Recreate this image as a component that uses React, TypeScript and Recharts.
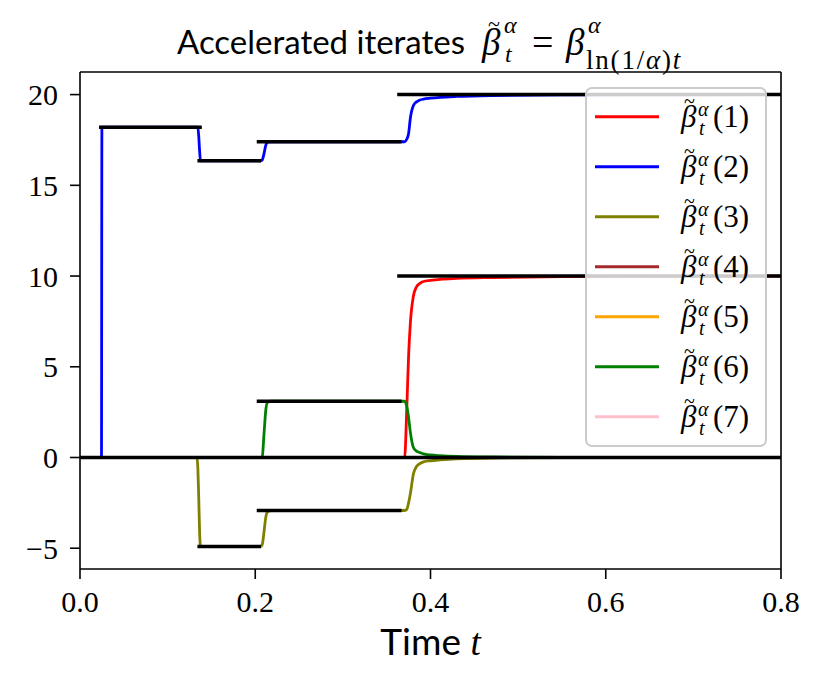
import React from 'react';
import { LineChart, Line, XAxis, YAxis, Legend } from 'recharts';

// ---- data ----
const TIMES = [0, 0.0245, 0.025, 0.1335, 0.1345, 0.1355, 0.1365, 0.1375, 0.2065, 0.208, 0.21, 0.212, 0.214, 0.218, 0.3705, 0.373, 0.375, 0.377, 0.3805, 0.384, 0.388, 0.392, 0.4, 0.411, 0.43, 0.47, 0.55, 0.8];

const BETA_1 = [0, 0, 0, 0, 0, 0, 0, 0, 0, 0, 0, 0, 0, 0, 0, 2.8, 5.6, 7.4, 8.9, 9.4, 9.6, 9.7, 9.76, 9.82, 9.87, 9.92, 9.97, 10];
const BETA_2 = [0, 0, 18.2, 18.2, 18.2, 17.7, 16.9, 16.35, 16.35, 16.4, 16.75, 17.2, 17.38, 17.4, 17.4, 17.55, 17.85, 18.7, 19.4, 19.6, 19.7, 19.75, 19.8, 19.85, 19.9, 19.95, 19.98, 20];
const BETA_3 = [0, 0, 0, 0, -0.6, -2.2, -4.1, -4.9, -4.9, -4.8, -4.1, -3.3, -3.0, -2.92, -2.92, -2.85, -2.5, -2.0, -0.9, -0.5, -0.33, -0.24, -0.18, -0.13, -0.07, -0.03, -0.01, 0];
const BETA_4 = [0, 0, 0, 0, 0, 0, 0, 0, 0, 0, 0, 0, 0, 0, 0, 0, 0, 0, 0, 0, 0, 0, 0, 0, 0, 0, 0, 0];
const BETA_5 = [0, 0, 0, 0, 0, 0, 0, 0, 0, 0, 0, 0, 0, 0, 0, 0, 0, 0, 0, 0, 0, 0, 0, 0, 0, 0, 0, 0];
const BETA_6 = [0, 0, 0, 0, 0, 0, 0, 0, 0, 0.05, 1.3, 2.6, 3.05, 3.1, 3.1, 2.8, 2.2, 1.4, 0.55, 0.35, 0.27, 0.2, 0.14, 0.1, 0.06, 0.03, 0.01, 0];
const BETA_7 = [0, 0, 0, 0, 0, 0, 0, 0, 0, 0, 0, 0, 0, 0, 0, 0, 0, 0, 0, 0, 0, 0, 0, 0, 0, 0, 0, 0];

const SERIES_LABELS = ['1', '2', '3', '4', '5', '6', '7'];

// limit segments (black)
const LIMIT_START = [0, 0.0217, 0.134, 0.2017, 0.362, 0.362, 0.2017, 0.2017, 0.134];
const LIMIT_END = [0.8, 0.139, 0.2066, 0.367, 0.8, 0.8, 0.367, 0.367, 0.2066];
const LIMIT_VALUE = [0, 18.2, 16.35, 17.4, 20, 10, 3.1, -2.92, -4.9];

const X_TICKS = [0, 0.2, 0.4, 0.6, 0.8];
const Y_TICKS = [-5, 0, 5, 10, 15, 20];

// ---- styles ----
const COLORS = ['#ff0000', '#0000ff', '#808000', '#a52a2a', '#ffa500', '#008000', '#ffc0cb'];
const SERIF = 'Liberation Serif';
const SANS = 'Lato';
const X_DOMAIN: [number, number] = [0, 0.8];
const Y_DOMAIN: [number, number] = [-6.145, 21.245];

const ALL_SERIES = [BETA_1, BETA_2, BETA_3, BETA_4, BETA_5, BETA_6, BETA_7];

const chartData = TIMES.map((t, i) => {
  const row: Record<string, number> = { t };
  ALL_SERIES.forEach((s, k) => {
    row['b' + (k + 1)] = s[i];
  });
  return row;
});

const limitData = LIMIT_START.map((s, i) => [
  { t: s, v: LIMIT_VALUE[i] },
  { t: LIMIT_END[i], v: LIMIT_VALUE[i] },
]);

const fmtY = (v: number) => (v < 0 ? '\u2212' + Math.abs(v) : String(v));
const fmtX = (v: number) => v.toFixed(1);

const renderLegend = () => (
  <svg width={182} height={360} style={{ display: 'block', overflow: 'visible' }}>
    <rect x={1} y={1} width={180} height={358} rx={6} ry={6} fill="rgba(255,255,255,0.8)" stroke="#cccccc" strokeWidth={2} />
    {SERIES_LABELS.map((lab, i) => {
      const cy = 29.7 + 50 * i;
      return (
        <g key={lab}>
          <line x1={10} x2={74} y1={cy} y2={cy} stroke={COLORS[i]} strokeWidth={3} />
          <text fontFamily={SERIF} fill="#000">
            <tspan x={96} y={cy + 10} fontStyle="italic" fontSize={31}>β</tspan>
            <tspan x={99} y={cy - 9} fontSize={20}>~</tspan>
            <tspan x={113} y={cy - 1} fontStyle="italic" fontSize={20}>α</tspan>
            <tspan x={114} y={cy + 18} fontStyle="italic" fontSize={20}>t</tspan>
            <tspan x={128} y={cy + 10} fontSize={31}>({lab})</tspan>
          </text>
        </g>
      );
    })}
  </svg>
);

export default function App() {
  return (
    <div style={{ position: 'absolute', left: 0, top: 0, width: 822, height: 685, background: '#fff' }}>
      <LineChart width={822} height={685} data={chartData} margin={{ top: 71, right: 40, bottom: 0, left: 0 }}>
        <XAxis
          dataKey="t"
          type="number"
          domain={X_DOMAIN}
          allowDataOverflow
          ticks={X_TICKS}
          tickFormatter={fmtX}
          height={116}
          tickSize={10}
          tickMargin={12}
          axisLine={{ stroke: '#000', strokeWidth: 1.6 }}
          tickLine={{ stroke: '#000', strokeWidth: 1.6 }}
          tick={{ fill: '#000', fontSize: 30, fontFamily: SERIF }}
        />
        <XAxis
          xAxisId="top"
          orientation="top"
          dataKey="t"
          type="number"
          domain={X_DOMAIN}
          allowDataOverflow
          height={1}
          tick={false}
          tickLine={false}
          axisLine={{ stroke: '#000', strokeWidth: 1.6 }}
        />
        <YAxis
          type="number"
          domain={Y_DOMAIN}
          allowDataOverflow
          ticks={Y_TICKS}
          tickFormatter={fmtY}
          width={80}
          tickSize={10}
          tickMargin={12}
          axisLine={{ stroke: '#000', strokeWidth: 1.6 }}
          tickLine={{ stroke: '#000', strokeWidth: 1.6 }}
          tick={{ fill: '#000', fontSize: 30, fontFamily: SERIF }}
        />
        <YAxis
          yAxisId="right"
          orientation="right"
          type="number"
          domain={Y_DOMAIN}
          allowDataOverflow
          width={1}
          tick={false}
          tickLine={false}
          axisLine={{ stroke: '#000', strokeWidth: 1.6 }}
        />
        {SERIES_LABELS.map((lab, i) => (
          <Line
            key={'s' + lab}
            type="monotone"
            dataKey={'b' + (i + 1)}
            name={lab}
            stroke={COLORS[i]}
            strokeWidth={2.8}
            dot={false}
            activeDot={false}
            isAnimationActive={false}
          />
        ))}
        {limitData.map((seg, i) => (
          <Line
            key={'lim' + i}
            data={seg}
            type="linear"
            dataKey="v"
            xAxisId={i === 0 ? 'top' : 0}
            yAxisId={i === 0 ? 'right' : 0}
            stroke="#000"
            strokeWidth={3.5}
            dot={false}
            activeDot={false}
            legendType="none"
            isAnimationActive={false}
          />
        ))}
        <Legend
          layout="vertical"
          align="center"
          verticalAlign="middle"
          content={renderLegend}
          wrapperStyle={{ position: 'absolute', left: 585, top: 87, width: 182, height: 360 }}
        />
      </LineChart>
      <svg width={822} height={685} style={{ position: 'absolute', left: 0, top: 0, pointerEvents: 'none' }}>
        <text x={177} y={54} fontFamily={SANS} fontSize={33} fill="#000">Accelerated iterates</text>
        <text fontFamily={SERIF} fill="#000">
          <tspan x={482} y={55} fontStyle="italic" fontSize={37}>β</tspan>
          <tspan x={488} y={31} fontSize={22}>~</tspan>
          <tspan x={504} y={33} fontStyle="italic" fontSize={24}>α</tspan>
          <tspan x={505} y={62} fontStyle="italic" fontSize={24}>t</tspan>
        </text>
        <text x={532} y={55} fontFamily={SERIF} fontSize={38} fill="#000">=</text>
        <text fontFamily={SERIF} fill="#000">
          <tspan x={566} y={55} fontStyle="italic" fontSize={37}>β</tspan>
          <tspan x={588} y={33} fontStyle="italic" fontSize={24}>α</tspan>
          <tspan x={586} y={69} fontSize={27} letterSpacing={1.8}>ln(1/</tspan>
          <tspan fontStyle="italic" fontSize={27} letterSpacing={1.8}>α</tspan>
          <tspan fontSize={27} letterSpacing={1.8}>)</tspan>
          <tspan fontStyle="italic" fontSize={27}>t</tspan>
        </text>
        <text x={430.5} y={655} textAnchor="middle" fill="#000">
          <tspan fontFamily={SANS} fontSize={37}>Time </tspan>
          <tspan fontFamily={SERIF} fontStyle="italic" fontSize={37}>t</tspan>
        </text>
      </svg>
    </div>
  );
}
